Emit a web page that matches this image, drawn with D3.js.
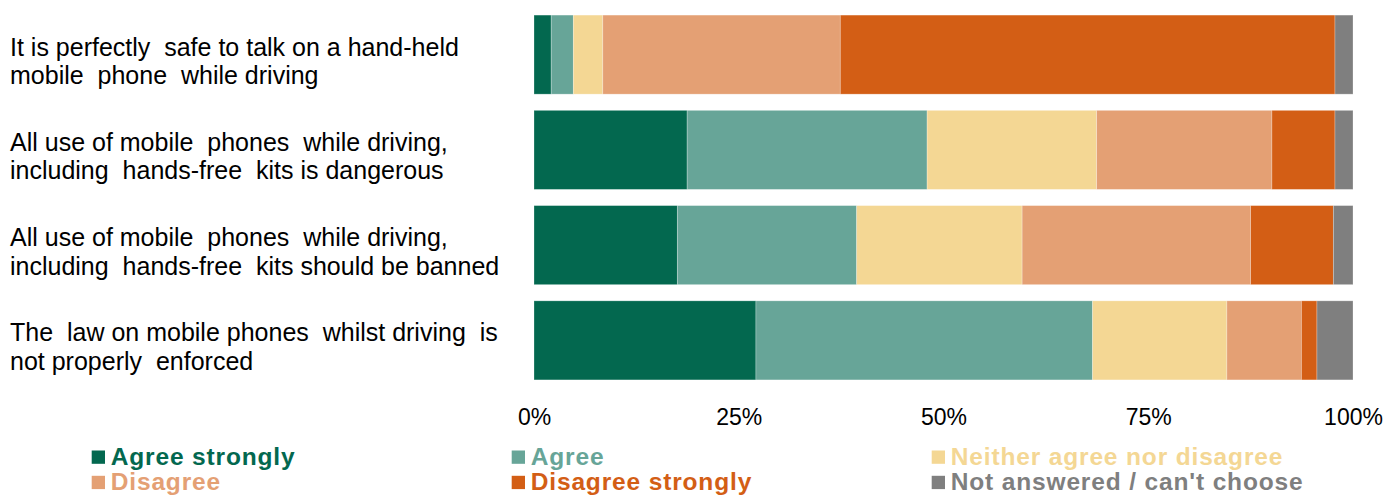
<!DOCTYPE html>
<html>
<head>
<meta charset="utf-8">
<script src="https://cdn.jsdelivr.net/npm/d3@7"></script>
<style>
  html, body { margin: 0; padding: 0; background: #fff; }
  svg { display: block; }
  text { font-family: "Liberation Sans", Arial, sans-serif; }
</style>
</head>
<body>
<svg id="chart" width="1399" height="495"></svg>
<script>
// Survey statements (two lines each, as wrapped on the chart)
const statements = [
  ["It is perfectly  safe to talk on a hand-held", "mobile  phone  while driving"],
  ["All use of mobile  phones  while driving,", "including  hands-free  kits is dangerous"],
  ["All use of mobile  phones  while driving,", "including  hands-free  kits should be banned"],
  ["The  law on mobile phones  whilst driving  is", "not properly  enforced"]
];

// Response categories, in stacking order
const responses = [
  "Agree strongly",
  "Agree",
  "Neither agree nor disagree",
  "Disagree",
  "Disagree strongly",
  "Not answered / can't choose"
];

// Percentage of respondents per statement, one array per response
const agreeStrongly     = [2.1, 18.7, 17.5, 27.1];
const agree             = [2.7, 29.3, 21.9, 41.1];
const neitherAgree      = [3.6, 20.7, 20.2, 16.4];
const disagree          = [29.0, 21.4, 27.9, 9.1];
const disagreeStrongly  = [60.4, 7.7, 10.1, 1.9];
const notAnswered       = [2.2, 2.2, 2.4, 4.4];

const tickValues = [0, 0.25, 0.5, 0.75, 1];

const colors = ["#03684F", "#67A598", "#F4D794", "#E4A074", "#D35E15", "#7F7F7F"];

const seriesValues = [agreeStrongly, agree, neitherAgree, disagree, disagreeStrongly, notAnswered];

// Build rows for d3.stack, normalised to shares of the total
const rows = statements.map((s, i) => {
  const row = { idx: i };
  const total = d3.sum(seriesValues, v => v[i]);
  responses.forEach((r, k) => { row[r] = seriesValues[k][i] / total; });
  return row;
});

const stacked = d3.stack().keys(responses)(rows);

const svg = d3.select("#chart");

const x = d3.scaleLinear().domain([0, 1]).range([534, 1353]);
const y = d3.scaleBand()
  .domain(d3.range(statements.length))
  .range([7, 388])
  .paddingInner(0.17)
  .paddingOuter(0.085);

const color = d3.scaleOrdinal().domain(responses).range(colors);

// Stacked bars
svg.append("g")
  .selectAll("g")
  .data(stacked)
  .join("g")
  .attr("fill", d => color(d.key))
  .selectAll("rect")
  .data(d => d)
  .join("rect")
  .attr("x", d => x(d[0]))
  .attr("y", d => y(d.data.idx))
  .attr("width", d => x(d[1]) - x(d[0]))
  .attr("height", y.bandwidth())
  .attr("stroke", "rgba(255,255,255,0.35)")
  .attr("stroke-width", 0.75);

// Percentage axis
const axis = svg.append("g")
  .attr("transform", "translate(0,388)")
  .call(d3.axisBottom(x).tickValues(tickValues).tickFormat(d3.format(".0%")).tickSize(0).tickPadding(21));
axis.select(".domain").remove();
axis.selectAll("text")
  .attr("font-family", "'Liberation Sans', Arial, sans-serif")
  .attr("font-size", 23)
  .attr("fill", "#000");

// Statement labels
const labels = svg.append("g")
  .selectAll("text")
  .data(statements)
  .join("text")
  .attr("x", 10)
  .attr("y", (d, i) => y(i) + y.bandwidth() / 2 + 1)
  .attr("font-size", 25)
  .attr("fill", "#000")
  .style("white-space", "pre");
labels.selectAll("tspan")
  .data(d => d)
  .join("tspan")
  .attr("x", 10)
  .attr("dy", (d, j) => j === 0 ? 0 : 28.4)
  .text(d => d);

// Legend: three columns, two rows
const legend = svg.append("g")
  .selectAll("g")
  .data(responses)
  .join("g")
  .attr("transform", (d, i) => `translate(${91.7 + (i % 3) * 420},${450.5 + Math.floor(i / 3) * 25.3})`);
legend.append("rect")
  .attr("width", 13.3)
  .attr("height", 13.3)
  .attr("fill", d => color(d));
legend.append("text")
  .attr("x", 19)
  .attr("y", 14.3)
  .attr("font-size", 24.5)
  .attr("font-weight", "bold")
  .attr("letter-spacing", 0.85)
  .attr("fill", d => color(d))
  .text(d => d);
</script>
</body>
</html>
